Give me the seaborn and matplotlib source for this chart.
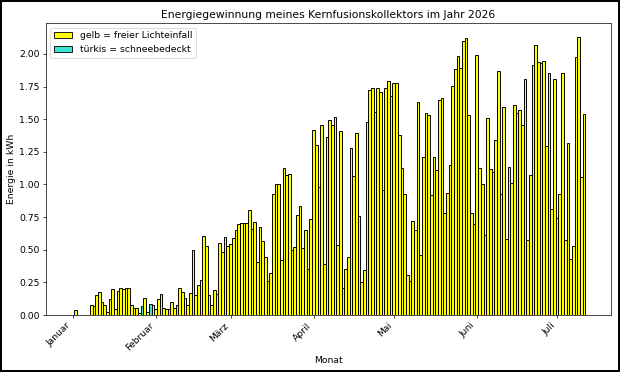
import numpy as np
import pandas as pd
import matplotlib
matplotlib.use("Agg")
import matplotlib.pyplot as plt
from matplotlib.patches import Patch
import seaborn as sns

# ---- data ----
start_date = "2026-01-01"
energy_kwh = [
    0.00, 0.04, 0.00, 0.00, 0.00, 0.00, 0.00, 0.076, 0.071, 0.153,
    0.18, 0.10, 0.079, 0.025, 0.122, 0.20, 0.05, 0.183, 0.206, 0.20,
    0.206, 0.21, 0.079, 0.053, 0.058, 0.018, 0.066, 0.13, 0.02, 0.087,
    0.079, 0.048, 0.12, 0.165, 0.058, 0.05, 0.043, 0.10, 0.058, 0.08,
    0.21, 0.173, 0.13, 0.08, 0.17, 0.50, 0.15, 0.234, 0.265, 0.603,
    0.53, 0.153, 0.08, 0.19, 0.165, 0.55, 0.486, 0.595, 0.53, 0.547,
    0.593, 0.654, 0.70, 0.707, 0.707, 0.705, 0.807, 0.656, 0.715, 0.41,
    0.674, 0.57, 0.448, 0.26, 0.326, 0.926, 1.00, 1.005, 0.42, 1.13,
    1.074, 1.08, 0.50, 0.524, 0.77, 0.837, 0.517, 0.65, 0.35, 0.733,
    1.42, 1.30, 0.977, 1.458, 0.39, 1.364, 1.49, 1.455, 1.517, 0.534,
    1.41, 0.21, 0.35, 0.445, 1.277, 1.066, 1.394, 0.758, 0.252, 0.346,
    1.478, 1.725, 1.738, 1.557, 1.735, 1.705, 0.96, 1.735, 1.794, 1.674,
    1.78, 1.776, 1.38, 1.125, 0.93, 0.31, 0.262, 0.717, 0.65, 1.634,
    0.463, 1.21, 1.55, 1.53, 0.916, 1.214, 1.11, 1.646, 1.66, 0.784,
    0.934, 1.147, 1.756, 1.888, 1.987, 1.89, 2.097, 2.12, 1.534, 0.78,
    0.697, 1.99, 1.13, 1.005, 0.616, 1.51, 1.115, 1.094, 1.343, 1.868,
    0.926, 1.595, 0.585, 1.137, 1.013, 1.606, 1.547, 1.57, 1.455, 1.81,
    0.578, 1.07, 1.913, 2.066, 1.936, 1.931, 1.947, 1.295, 1.852, 0.814,
    1.81, 0.746, 0.929, 1.857, 0.573, 1.318, 0.433, 0.53, 1.975, 2.127,
    1.059, 1.54,
]
snow_day_index = [26, 29]
month_labels = ["Januar", "Februar", "März", "April", "Mai", "Juni", "Juli"]
legend_labels = ["gelb = freier Lichteinfall", "türkis = schneebedeckt"]

# ---- build table ----
dates = pd.date_range(start_date, periods=len(energy_kwh), freq="D")
day_num = (dates - dates[0]).days
status = np.where(np.isin(np.arange(len(energy_kwh)), snow_day_index), "schnee", "frei")
df = pd.DataFrame({"tag": day_num, "energie": energy_kwh, "status": status})

month_starts = pd.date_range(start_date, periods=len(month_labels), freq="MS")
month_pos = (month_starts - dates[0]).days

# ---- plot ----
plt.rcParams["font.size"] = 10.7
fig = plt.figure(figsize=(10, 6), dpi=62, edgecolor="black", linewidth=2.5)
ax = fig.add_axes([0.0734, 0.153, 0.912, 0.785])

sns.barplot(data=df, x="tag", y="energie", hue="status",
            palette={"frei": "yellow", "schnee": "turquoise"},
            native_scale=True, dodge=False, width=1, saturation=1,
            edgecolor="black", linewidth=1.1, errorbar=None,
            legend=False, ax=ax)

ax.set_xticks(month_pos)
ax.set_xticklabels(month_labels, rotation=45, ha="right")
ax.set_xlim(-10.1, 201.1)
ax.set_ylim(0, 2.236)
ax.set_yticks(np.arange(0, 2.01, 0.25))
ax.yaxis.set_major_formatter(matplotlib.ticker.FormatStrFormatter("%.2f"))
ax.set_xlabel("Monat")
ax.set_ylabel("Energie in kWh")
ax.set_title("Energiegewinnung meines Kernfusionskollektors im Jahr 2026", fontsize=12.5)

handles = [Patch(facecolor="yellow", edgecolor="black", label=legend_labels[0]),
           Patch(facecolor="turquoise", edgecolor="black", label=legend_labels[1])]
ax.legend(handles=handles, loc="upper left")

fig.savefig("out.png", dpi=62)
